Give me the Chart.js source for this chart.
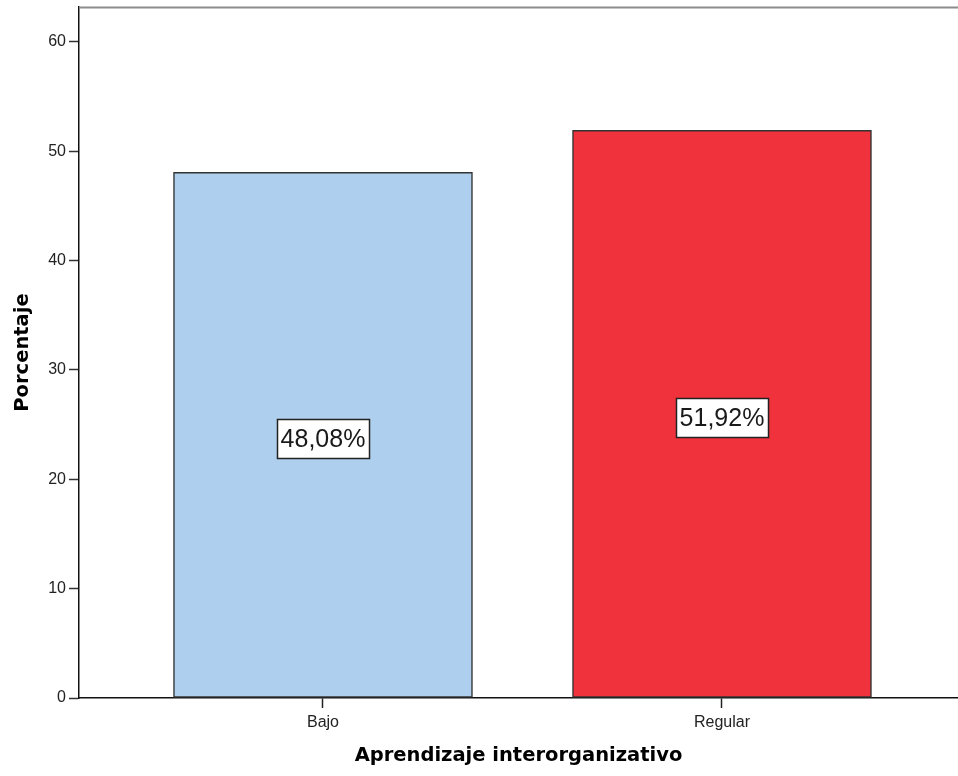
<!DOCTYPE html>
<html lang="es">
<head>
<meta charset="utf-8">
<title>Aprendizaje interorganizativo</title>
<script src="https://cdn.jsdelivr.net/npm/chart.js@4.4.1/dist/chart.umd.min.js"></script>
<style>
  html, body { margin: 0; padding: 0; background: #ffffff; }
  #wrap { width: 958px; height: 776px; position: relative; }
</style>
</head>
<body>
<div id="wrap"><canvas id="chart"></canvas></div>
<script>
// Categories and their percentages
const categories = ['Bajo', 'Regular'];
const percentages = [48.08, 51.92];
const barColors = ['#aecfed', '#ef323b'];
const yTicks = [0, 10, 20, 30, 40, 50, 60];

const points = categories.map((c, i) => ({ x: i + 1, y: percentages[i] }));

const fmtPct = v => v.toFixed(2).replace('.', ',') + '%';

// Grey frame line along the top of the plot area
const topFrame = {
  id: 'topFrame',
  beforeDatasetsDraw(chart) {
    const { ctx, chartArea } = chart;
    ctx.save();
    ctx.strokeStyle = '#8c8c8c';
    ctx.lineWidth = 2;
    ctx.beginPath();
    ctx.moveTo(chartArea.left, chartArea.top + 0.5);
    ctx.lineTo(chartArea.right, chartArea.top + 0.5);
    ctx.stroke();
    ctx.restore();
  }
};

// Boxed value labels in the middle of each bar
const boxedLabels = {
  id: 'boxedLabels',
  afterDatasetsDraw(chart) {
    const { ctx } = chart;
    const meta = chart.getDatasetMeta(0);
    ctx.save();
    ctx.font = '25px "Liberation Sans", Arial, sans-serif';
    ctx.textAlign = 'center';
    ctx.textBaseline = 'middle';
    meta.data.forEach((bar, i) => {
      const text = fmtPct(percentages[i]);
      const w = ctx.measureText(text).width + 7;
      const h = 39;
      const cx = bar.x;
      const cy = (bar.y + bar.base) / 2 + 4;
      const x0 = Math.round(cx - w / 2) + 0.5;
      const y0 = Math.round(cy - h / 2) + 0.5;
      ctx.fillStyle = '#ffffff';
      ctx.fillRect(x0, y0, Math.round(w), h);
      ctx.strokeStyle = '#222222';
      ctx.lineWidth = 1.5;
      ctx.strokeRect(x0, y0, Math.round(w), h);
      ctx.fillStyle = '#1a1a1a';
      ctx.fillText(text, cx, cy + 1);
    });
    ctx.restore();
  }
};

Chart.defaults.font.family = '"Liberation Sans", Arial, sans-serif';
Chart.defaults.color = '#222222';

new Chart(document.getElementById('chart'), {
  type: 'bar',
  data: {
    datasets: [{
      data: points,
      backgroundColor: barColors,
      borderColor: '#333333',
      borderWidth: 1.5,
      borderSkipped: false,
      barThickness: 299
    }]
  },
  options: {
    responsive: true,
    maintainAspectRatio: false,
    devicePixelRatio: 1,
    animation: false,
    layout: { padding: { top: 7, right: 0, bottom: 0, left: 0 } },
    plugins: {
      legend: { display: false },
      tooltip: { enabled: false }
    },
    scales: {
      x: {
        type: 'linear',
        offset: false,
        min: 0.3885,
        max: 2.5915,
        afterBuildTicks(scale) {
          scale.ticks = categories.map((c, i) => ({ value: i + 1 }));
        },
        afterFit(scale) {
          scale.height = 78;
          scale.paddingLeft = 0;
          scale.paddingRight = 0;
        },
        ticks: {
          font: { size: 16 },
          color: '#222222',
          padding: 5,
          maxRotation: 0,
          callback: v => categories[v - 1]
        },
        grid: {
          offset: false,
          drawOnChartArea: false,
          drawTicks: true,
          tickLength: 10,
          tickWidth: 1.5,
          tickColor: '#222222'
        },
        border: { display: true, color: '#111111', width: 1.5 },
        title: {
          display: true,
          text: 'Aprendizaje interorganizativo',
          color: '#000000',
          font: { family: '"DejaVu Sans", Verdana, sans-serif', size: 19.5, weight: 'bold' },
          padding: { top: 0, bottom: 8 }
        }
      },
      y: {
        min: 0,
        max: 63.2,
        afterBuildTicks(scale) {
          scale.ticks = yTicks.map(v => ({ value: v }));
        },
        afterFit(scale) {
          scale.width = 79;
          scale.paddingTop = 0;
          scale.paddingBottom = 0;
        },
        ticks: {
          font: { size: 16 },
          color: '#222222',
          padding: 3
        },
        grid: {
          drawOnChartArea: false,
          drawTicks: true,
          tickLength: 10,
          tickWidth: 1.5,
          tickColor: '#333333'
        },
        border: { display: true, color: '#111111', width: 1.5 },
        title: {
          display: true,
          text: 'Porcentaje',
          color: '#000000',
          font: { family: '"DejaVu Sans", Verdana, sans-serif', size: 19.5, weight: 'bold' },
          padding: { top: 11, bottom: 0 }
        }
      }
    }
  },
  plugins: [topFrame, boxedLabels]
});
</script>
</body>
</html>
